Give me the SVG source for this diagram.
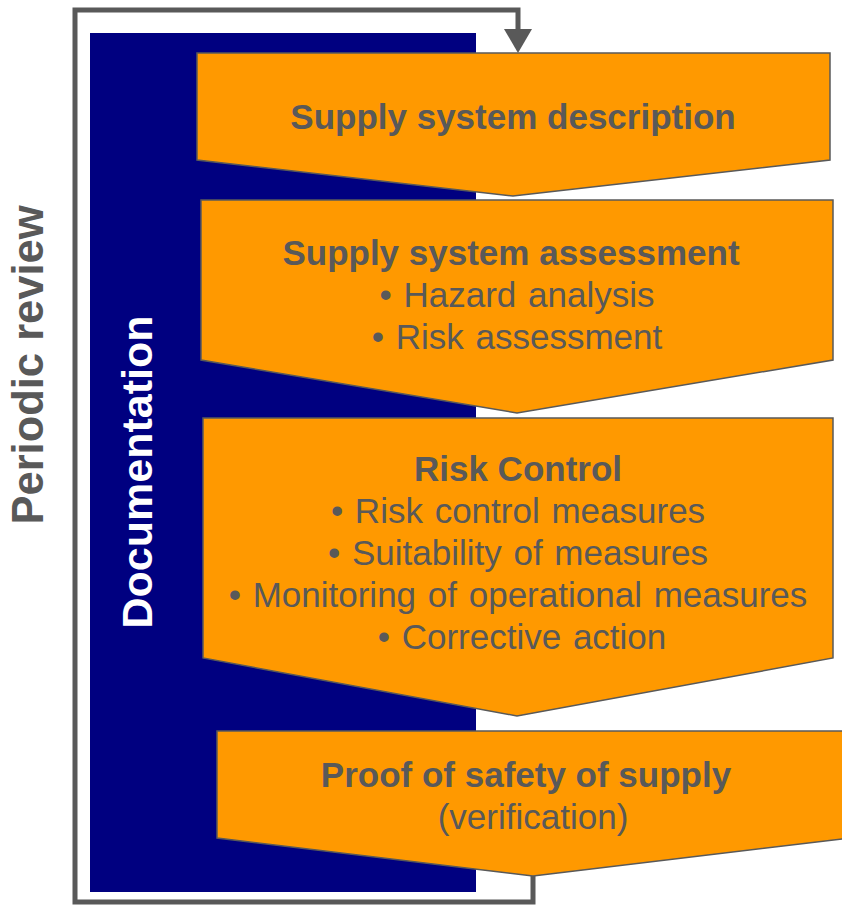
<svg xmlns="http://www.w3.org/2000/svg" width="842" height="905" viewBox="0 0 842 905">
<style>
.box{fill:#FF9900;stroke:#595959;stroke-width:1.5}
.t{font-family:"Liberation Sans",Arial,sans-serif;fill:#595959;text-anchor:middle;font-size:35px}
.b{font-weight:bold}
.loop{fill:none;stroke:#595959;stroke-width:5}
</style>
<rect x="0" y="0" width="842" height="905" fill="#fff"/>
<g id="connectors">
<path class="loop" d="M533,876 V902 H75 V10 H518 V30"/>
<polygon points="504,29 532,29 518,53" fill="#595959"/>
</g>
<g id="documentation">
<rect x="90" y="33" width="386" height="859" fill="#000080"/>
<text transform="translate(152,472) rotate(-90)" font-family="Liberation Sans,Arial,sans-serif" font-weight="bold" font-size="43" fill="#fff" text-anchor="middle">Documentation</text>
</g>
<g id="periodic-review">
<text transform="translate(43,365) rotate(-90)" font-family="Liberation Sans,Arial,sans-serif" font-weight="bold" font-size="43.5" fill="#595959" text-anchor="middle">Periodic review</text>
</g>
<g id="step1">
<polygon class="box" points="197,53 830,53 830,160 513,196 197,160"/>
<text class="t b" x="513" y="129">Supply system description</text>
</g>
<g id="step2">
<polygon class="box" points="201,200 833,200 833,360 517,413 201,360"/>
<text class="t b" x="511" y="265">Supply system assessment</text>
<text class="t" x="517" y="307" word-spacing="2">• Hazard analysis</text>
<text class="t" x="517" y="349" word-spacing="2">• Risk assessment</text>
</g>
<g id="step3">
<polygon class="box" points="203,418 833,418 833,658 517,716 203,658"/>
<text class="t b" x="518" y="481">Risk Control</text>
<text class="t" x="518" y="523" word-spacing="2">• Risk control measures</text>
<text class="t" x="518" y="565" word-spacing="2">• Suitability of measures</text>
<text class="t" x="518" y="607" word-spacing="2">• Monitoring of operational measures</text>
<text class="t" x="522" y="649" word-spacing="2">• Corrective action</text>
</g>
<g id="step4">
<polygon class="box" points="217,731 850,731 850,838 533,876 217,838"/>
<text class="t b" x="526" y="787">Proof of safety of supply</text>
<text class="t" x="533" y="829">(verification)</text>
</g>
</svg>
